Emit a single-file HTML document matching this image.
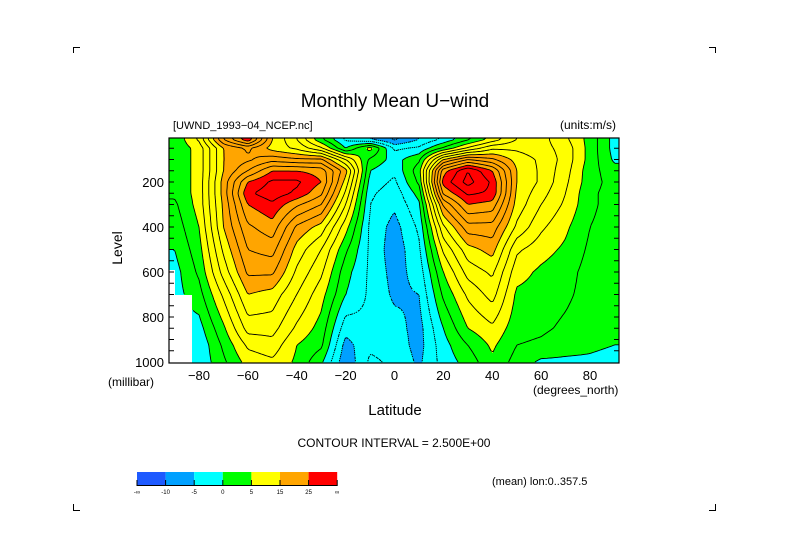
<!DOCTYPE html>
<html><head><meta charset="utf-8"><style>
body{margin:0;background:#fff;}
svg{display:block;font-family:"Liberation Sans",sans-serif;}
</style></head><body>
<svg id="chart" width="789" height="558" viewBox="0 0 789 558" xmlns="http://www.w3.org/2000/svg">
<rect x="0" y="0" width="789" height="558" fill="#fff"/>
<g stroke="#000" stroke-width="1" fill="none">
<path d="M73.5 53V47.5H80"/>
<path d="M709 47.5H715.5V53"/>
<path d="M73.5 504V510.5H80"/>
<path d="M709 510.5H715.5V504"/>
</g>
<text x="395" y="107" font-size="19" text-anchor="middle" fill="#000">Monthly Mean U−wind</text>
<text x="173" y="129" font-size="11" fill="#000">[UWND_1993−04_NCEP.nc]</text>
<text x="616" y="129" font-size="12" text-anchor="end" fill="#000">(units:m/s)</text>
<g id="field"></g>
<g id="lines"></g>
<g id="axes"></g>
<text transform="translate(122,248) rotate(-90)" font-size="14" text-anchor="middle" fill="#000">Level</text>
<text x="108" y="386" font-size="12" fill="#000">(millibar)</text>
<text x="533" y="394" font-size="12" fill="#000">(degrees_north)</text>
<text x="395" y="415" font-size="15" text-anchor="middle" fill="#000">Latitude</text>
<text x="394" y="447" font-size="12" text-anchor="middle" fill="#000">CONTOUR INTERVAL = 2.500E+00</text>
<text x="492" y="485" font-size="11" fill="#000">(mean) lon:0..357.5</text>
<g id="cbar"></g>
</svg>
<script>
const lats=[-90,-80,-70,-60,-50,-40,-30,-20,-10,0,10,20,30,40,50,60,70,80,90];
const levels=[0,10,50,100,150,200,250,300,400,500,600,700,850,925,1000];
const u0   =[3,8,20,27,15,10,3,-3,-5,-8,-5,-2,2,6,10,11,8,4,-1];
const u10  =[3,8,20,27,15,10,3,-3,-5,-8,-5,-2,2,6,10,11,8,4,-1];
const u50  =[3,6,15,18,14,12,8,0,6,-3,-2,3,8,12,12,11,9,4,-1];
const u100 =[3,6,15,17,19,18,18,10,2,-1,2,15,20,18,14,12,9,4,-0.5];
const u150 =[3,6,15,20,25,25,24,16,0,-2,4,24,30,25,15,12,8.5,3.5,1];
const u200 =[3,6,16,25,28,28,25,14,-1,-3,3,26,31,27,15,12,8,3.5,1.5];
const u250 =[3,6,16,27,29,27,23,12,-2,-4,1,23,28,27,14.5,11,7.5,3,1.5];
const u300 =[2,6,15.5,25,27,23,20,10,-2.5,-4.5,-0.5,18,25,24,14,10,7,3,1.5];
const u400 =[1,5,15,22,24,17,14,6,-3,-6,-2,12,19,19,12,8,5.5,2.5,1.5];
const u500 =[0,4,13,20,21,14,10,3,-3,-6.5,-3,8,14,16,8,6,4.5,2,1.5];
const u600 =[-1,3,11,18,18,12,8,1,-3,-6,-4,5,11,13,6,4.5,3.5,1.5,1.5];
const u700 =[-1,1.5,8,15,14,10,6,0,-3,-5.5,-5,3,8,11,4.5,4,3,1.5,1];
const u850 =[-1,-1,4.5,11,11,7,4,-4,-3,-4,-6,0,5,7,3.5,3,2,1,0.5];
const u925 =[-1,-2,3,8,9,5,3,-6,-3,-3.5,-6,-1,2.5,5.5,2.5,2,1,0.5,0];
const u1000=[-1,-2,2,6,7,4.5,0.5,-7,-2,-3,-5.5,-1.5,1,4.5,1.5,-0.5,-0.5,-0.5,-1];
const uRows=[u0,u10,u50,u100,u150,u200,u250,u300,u400,u500,u600,u700,u850,u925,u1000];
const bandEdges=[-10,-5,0,5,15,25];
const bandColors=["#1e5aff","#00a0ff","#00ffff","#00ff00","#ffff00","#ffa500","#ff0000"];
const bandLabels=["-∞","-10","-5","0","5","15","25","∞"];
const yTickLabels=[200,400,600,800,1000];
const xTickLabels=[-80,-60,-40,-20,0,20,40,60,80];

const NS="http://www.w3.org/2000/svg";
const X0=169,X1=619,Y0=138,Y1=363;
function xs(lat){return 394.5+lat*2.444;}
function ys(p){return 137+p*0.225;}
function latOf(x){return (x-394.5)/2.444;}
function pOf(y){return (y-137)/0.225;}
function val(lat,p){
  lat=Math.max(-90,Math.min(90,lat));p=Math.max(0,Math.min(1000,p));
  let i=Math.min(lats.length-2,Math.floor((lat+90)/10));
  let fx=(lat-lats[i])/10;
  let j=0;while(j<levels.length-2&&p>levels[j+1])j++;
  let fy=(p-levels[j])/(levels[j+1]-levels[j]);
  const a=uRows[j][i],b=uRows[j][i+1],c=uRows[j+1][i],d=uRows[j+1][i+1];
  return (a*(1-fx)+b*fx)*(1-fy)+(c*(1-fx)+d*fx)*fy;
}
function masked(lat,p){return (p>590&&lat<-90)||(p>700&&lat<-83);}
function band(v){let k=0;while(k<bandEdges.length&&v>=bandEdges[k])k++;return k;}
function mk(tag,attrs,parent){const e=document.createElementNS(NS,tag);for(const k in attrs)e.setAttribute(k,attrs[k]);parent.appendChild(e);return e;}

const field=document.getElementById('field');
for(let y=Y0;y<Y1;y++){
  const p=pOf(y+0.5);
  let runStart=X0,runB=null;
  for(let x=X0;x<=X1;x++){
    let b;
    if(x<X1){const lat=latOf(x+0.5);b=masked(lat,p)?-1:band(val(lat,p));}
    if(x===X1||b!==runB){
      if(runB!==null){
        const r=mk('rect',{x:runStart,y:y,width:x-runStart,height:1.05,fill:runB<0?"#fff":bandColors[runB]},field);
        
        
      }
      runStart=x;runB=b;
    }
  }
}
const lines=document.getElementById('lines');
const step=2;
const gx=[],gy=[];for(let x=X0;x<=X1;x+=step)gx.push(x);for(let y=Y0;y<=Y1;y+=step)gy.push(y);
const G=gy.map(y=>gx.map(x=>{const lat=latOf(x),p=pOf(y);return masked(lat,p)?NaN:val(lat,p);}));
for(let L=-15;L<=35;L+=2.5){
  let d="";
  for(let j=0;j<gy.length-1;j++)for(let i=0;i<gx.length-1;i++){
    const c=[[gx[i],gy[j],G[j][i]],[gx[i+1],gy[j],G[j][i+1]],[gx[i+1],gy[j+1],G[j+1][i+1]],[gx[i],gy[j+1],G[j+1][i]]];
    if(c.some(q=>isNaN(q[2])))continue;
    const pts=[];
    for(let k=0;k<4;k++){const a=c[k],b=c[(k+1)%4];
      if((a[2]<L)!==(b[2]<L)){const t=(L-a[2])/(b[2]-a[2]);pts.push([a[0]+t*(b[0]-a[0]),a[1]+t*(b[1]-a[1])]);}}
    for(let k=0;k+1<pts.length;k+=2)d+="M"+pts[k][0].toFixed(1)+" "+pts[k][1].toFixed(1)+"L"+pts[k+1][0].toFixed(1)+" "+pts[k+1][1].toFixed(1);
  }
  if(!d)continue;
  const path=mk('path',{d:d,fill:"none",stroke:"#000","stroke-width":0.9},lines);
  if(L<0)path.setAttribute('stroke-dasharray','1.3 1.6');
  
  
}
const axes=document.getElementById('axes');
const frame=mk('rect',{x:X0,y:Y0,width:X1-X0,height:Y1-Y0,fill:"none",stroke:"#000","stroke-width":1.2},axes);


for(let p=50;p<1000;p+=50){
  const y=ys(p);
  const t=mk('path',{d:"M"+X0+" "+y+"h5M"+X1+" "+y+"h-5",stroke:"#000","stroke-width":1},axes);
  
  
}
yTickLabels.forEach(v=>{
  const t=mk('text',{x:164,y:ys(v)+5,"font-size":13,"text-anchor":"end",fill:"#000"},axes);
  t.textContent=v;
  
  
});
xTickLabels.forEach(v=>{
  const t=mk('text',{x:xs(v),y:380,"font-size":13,"text-anchor":"middle",fill:"#000"},axes);
  t.textContent=v<0?"−"+(-v):String(v);
  
  
});
const cbar=document.getElementById('cbar');
const cx0=137,cw=28.6;
bandColors.forEach((c,k)=>{
  const r=mk('rect',{x:cx0+k*cw,y:472,width:cw,height:13,fill:c},cbar);
  
  
});
const cf=mk('path',{d:"M"+cx0+" 485.5H"+(cx0+7*cw),stroke:"#000","stroke-width":1},cbar);


bandLabels.forEach((l,k)=>{
  const tk=mk('path',{d:"M"+(cx0+k*cw)+" 480V486",stroke:"#000","stroke-width":1},cbar);
  
  
  const t=mk('text',{x:cx0+k*cw,y:494,"font-size":6,"text-anchor":"middle",fill:"#000"},cbar);
  t.textContent=l;
  
  
});
</script>
</body></html>
